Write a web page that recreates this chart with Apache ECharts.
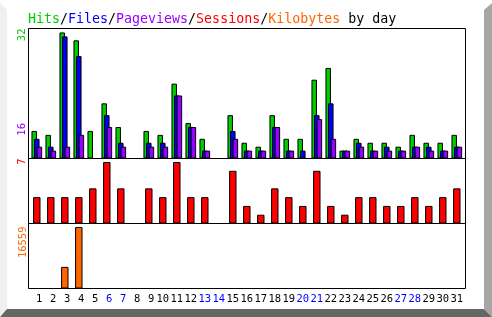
<!DOCTYPE html>
<html>
<head>
<meta charset="utf-8">
<script src="https://cdn.jsdelivr.net/npm/echarts@6/dist/echarts.min.js"></script>
<style>
html,body{margin:0;padding:0;background:#fff;}
#c{width:492px;height:317px;}
</style>
</head>
<body>
<div id="c"></div>
<script>
var days = ['1','2','3','4','5','6','7','8','9','10','11','12','13','14','15','16','17','18','19','20','21','22','23','24','25','26','27','28','29','30','31'];
var weekendDays = ['6','7','13','14','20','21','27','28'];
var hits      = [7,6,32,30,7,14,8,0,7,6,19,9,5,0,11,4,3,11,5,5,20,23,2,5,4,4,3,6,4,4,6];
var files     = [5,3,31,26,0,11,4,0,4,4,16,8,2,0,7,2,2,8,2,2,11,14,2,4,2,3,2,3,3,2,3];
var pageviews = [3,2,3,6,0,8,3,0,3,3,16,8,2,0,5,2,2,8,2,0,10,5,2,3,2,2,2,3,2,2,3];
var sessions  = [3,3,3,3,4,7,4,0,4,3,7,3,3,0,6,2,1,4,3,2,6,2,1,3,3,2,2,3,2,3,4];
var kilobytes = [0,0,5824,16559,0,0,0,0,0,0,0,0,0,0,0,0,0,0,0,0,0,0,0,0,0,0,0,0,0,0,0];

var C_HITS = '#00cc00', C_FILES = '#0000ff', C_PAGES = '#9900ff', C_SESS = '#ff0000', C_KB = '#ff6600';
var FONT = '"DejaVu Sans Mono", monospace';

var maxHits = Math.max.apply(null, hits);
var maxPages = Math.max.apply(null, pageviews);
var maxSess = Math.max.apply(null, sessions);
var maxKB = Math.max.apply(null, kilobytes);

var chart = echarts.init(document.getElementById('c'), null, {renderer: 'canvas'});

var gridL = 29.8, gridW = 434;
function xAx(i, showLabel) {
  return {
    type: 'category', gridIndex: i, data: days, boundaryGap: true,
    axisLine: {show: false}, axisTick: {show: false}, splitLine: {show: false},
    axisLabel: {
      show: showLabel, interval: 0, margin: 5,
      fontFamily: FONT, fontSize: 10.5,
      formatter: function (v) {
        var we = weekendDays.indexOf(v) >= 0;
        var key = (we ? 'w' : 'n') + (v.length === 1 ? '1' : '');
        return '{' + key + '|' + v + '}';
      },
      rich: {
        n: {color: '#000', fontFamily: FONT, fontSize: 10.5},
        w: {color: '#0000ff', fontFamily: FONT, fontSize: 10.5},
        n1: {color: '#000', fontFamily: FONT, fontSize: 10.5, padding: [0, 0, 0, 4.6]},
        w1: {color: '#0000ff', fontFamily: FONT, fontSize: 10.5, padding: [0, 0, 0, 4.6]}
      }
    }
  };
}
function yAx(i, max) {
  return {type: 'value', gridIndex: i, min: 0, max: max, show: false, splitLine: {show: false}};
}
var barStyle = function (c) { return {color: c, borderColor: '#000', borderWidth: 1}; };

var option = {
  animation: false,
  backgroundColor: '#fff',
  title: {
    left: 23, top: 8,
    text: '{g|Hits}{k|/}{b|Files}{k|/}{p|Pageviews}{k|/}{r|Sessions}{k|/}{o|Kilobytes}{k| by day}',
    textStyle: {
      fontFamily: FONT, fontSize: 13.3, fontWeight: 'normal',
      rich: {
        g: {color: C_HITS, fontFamily: FONT, fontSize: 13.3},
        b: {color: C_FILES, fontFamily: FONT, fontSize: 13.3},
        p: {color: C_PAGES, fontFamily: FONT, fontSize: 13.3},
        r: {color: C_SESS, fontFamily: FONT, fontSize: 13.3},
        o: {color: C_KB, fontFamily: FONT, fontSize: 13.3},
        k: {color: '#000', fontFamily: FONT, fontSize: 13.3}
      }
    }
  },
  grid: [
    {left: gridL, width: gridW, top: 28.5, height: 130},
    {left: gridL, width: gridW, top: 158.5, height: 65},
    {left: gridL, width: gridW, top: 223.5, height: 65}
  ],
  xAxis: [xAx(0, false), xAx(1, false), xAx(2, true)],
  yAxis: [yAx(0, 33), yAx(1, 7.4), yAx(2, 17500)],
  series: [
    {name: 'Hits', type: 'bar', xAxisIndex: 0, yAxisIndex: 0, data: hits, barWidth: 5.5, barGap: '-53%', itemStyle: barStyle(C_HITS)},
    {name: 'Files', type: 'bar', xAxisIndex: 0, yAxisIndex: 0, data: files, barWidth: 5.5, barGap: '-53%', itemStyle: barStyle(C_FILES)},
    {name: 'Pageviews', type: 'bar', xAxisIndex: 0, yAxisIndex: 0, data: pageviews, barWidth: 5.5, barGap: '-53%', itemStyle: barStyle(C_PAGES)},
    {name: 'Sessions', type: 'bar', xAxisIndex: 1, yAxisIndex: 1, data: sessions, barWidth: 7.4, itemStyle: barStyle(C_SESS)},
    {name: 'Kilobytes', type: 'bar', xAxisIndex: 2, yAxisIndex: 2, data: kilobytes, barWidth: 7.4, itemStyle: barStyle(C_KB)}
  ],
  graphic: [
    {type: 'polygon', z: 0, shape: {points: [[0,3],[7,10],[7,310],[0,317]]}, style: {fill: '#f0f0f0'}},
    {type: 'polygon', z: 0, shape: {points: [[484,10],[492,3],[492,317],[484,309]]}, style: {fill: '#a6a6a6'}},
    {type: 'polygon', z: 0, shape: {points: [[0,317],[7,309],[484,309],[492,317]]}, style: {fill: '#666666'}},
    {type: 'rect', z: 100, shape: {x: 28.5, y: 28.5, width: 437, height: 260}, style: {fill: null, stroke: '#000', lineWidth: 1}},
    {type: 'line', z: 100, shape: {x1: 28.5, y1: 158.5, x2: 465.5, y2: 158.5}, style: {stroke: '#000', lineWidth: 1}},
    {type: 'line', z: 100, shape: {x1: 28.5, y1: 223.5, x2: 465.5, y2: 223.5}, style: {stroke: '#000', lineWidth: 1}},
    {type: 'text', z: 100, x: 22, y: 28.5, rotation: Math.PI / 2, style: {text: String(maxHits), fill: C_HITS, font: '10.5px ' + FONT, textAlign: 'right', textVerticalAlign: 'middle'}},
    {type: 'text', z: 100, x: 22, y: 123, rotation: Math.PI / 2, style: {text: String(maxPages), fill: C_PAGES, font: '10.5px ' + FONT, textAlign: 'right', textVerticalAlign: 'middle'}},
    {type: 'text', z: 100, x: 22, y: 158.5, rotation: Math.PI / 2, style: {text: String(maxSess), fill: C_SESS, font: '10.5px ' + FONT, textAlign: 'right', textVerticalAlign: 'middle'}},
    {type: 'text', z: 100, x: 23, y: 226.5, rotation: Math.PI / 2, style: {text: String(maxKB), fill: C_KB, font: '10.5px ' + FONT, textAlign: 'right', textVerticalAlign: 'middle'}}
  ]
};
chart.setOption(option);
</script>
</body>
</html>
